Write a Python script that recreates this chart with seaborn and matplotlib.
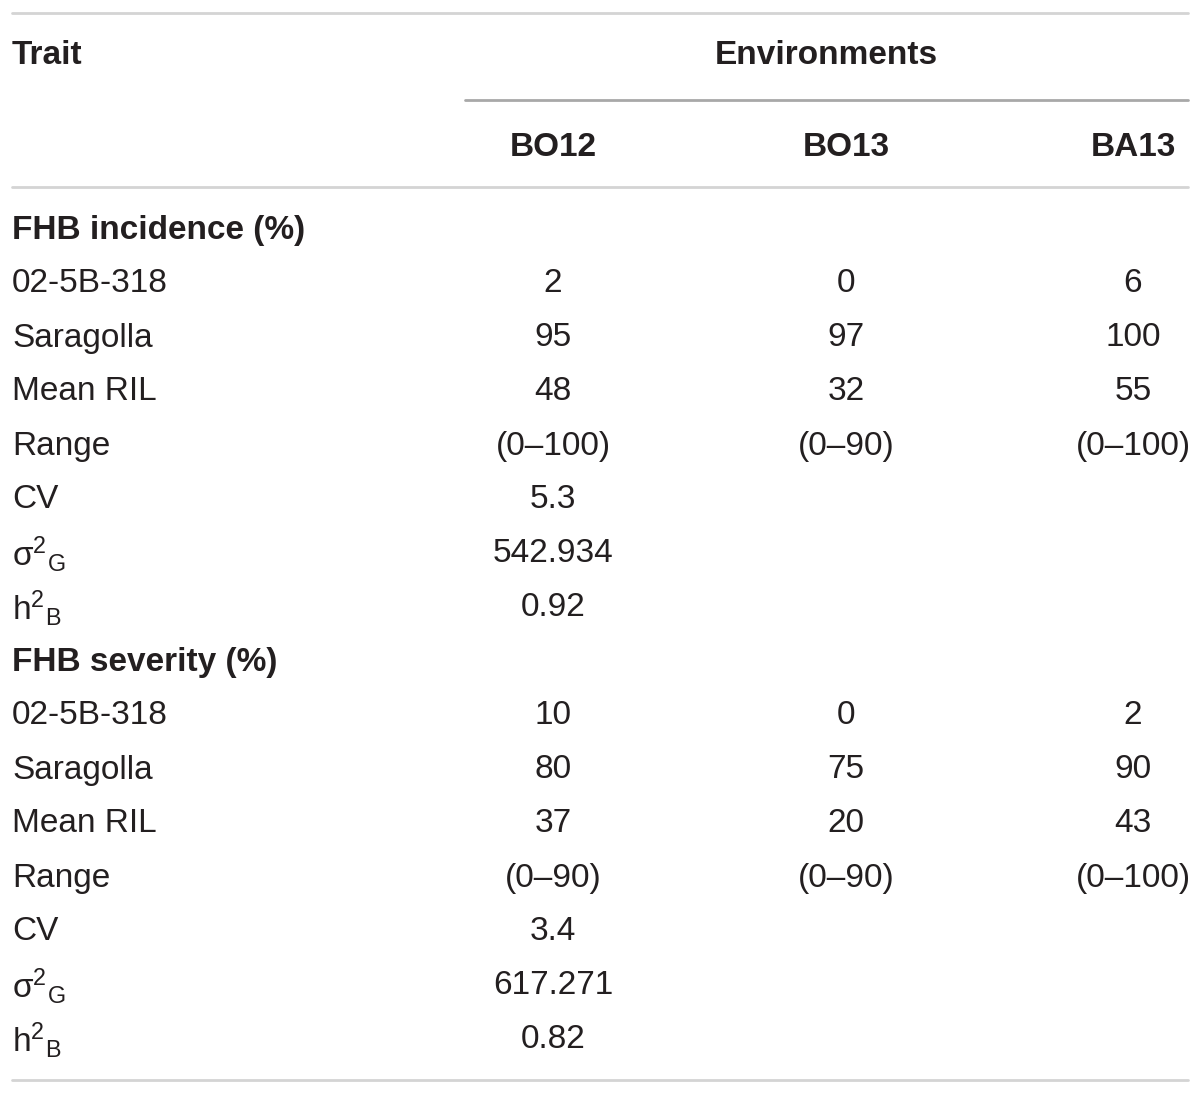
import matplotlib
matplotlib.use("Agg")
import matplotlib.pyplot as plt
import seaborn as sns
import pandas as pd

sns.set_theme(style="white")
plt.rcParams['font.family'] = ['Liberation Sans', 'DejaVu Sans']
plt.rcParams['mathtext.fontset'] = 'custom'
plt.rcParams['mathtext.rm'] = 'Liberation Sans'
plt.rcParams['mathtext.it'] = 'Liberation Sans'

# ---- data ----
header_trait = "Trait"
header_group = "Environments"
environments = ["BO12", "BO13", "BA13"]

section1 = "FHB incidence (%)"
rows1 = ["02-5B-318", "Saragolla", "Mean RIL", "Range", "CV", "sigma2G", "h2B"]
bo12_1 = ["2", "95", "48", "(0–100)", "5.3", "542.934", "0.92"]
bo13_1 = ["0", "97", "32", "(0–90)", "", "", ""]
ba13_1 = ["6", "100", "55", "(0–100)", "", "", ""]

section2 = "FHB severity (%)"
rows2 = ["02-5B-318", "Saragolla", "Mean RIL", "Range", "CV", "sigma2G", "h2B"]
bo12_2 = ["10", "80", "37", "(0–90)", "3.4", "617.271", "0.82"]
bo13_2 = ["0", "75", "20", "(0–90)", "", "", ""]
ba13_2 = ["2", "90", "43", "(0–100)", "", "", ""]

label_map = {
    "sigma2G": r"$\mathregular{\sigma^{2}{}_{G}}$",
    "h2B": r"$\mathregular{h^{2}{}_{B}}$",
}

# ---- layout ----
W, H = 1200, 1094
fig = plt.figure(figsize=(12, 10.94), dpi=100)
ax = fig.add_axes([0, 0, 1, 1])

txt = "#231f20"
fs = 24
col_x = [553, 846, 1133]
left_x = 12
dy = 2

# rules
rules = pd.DataFrame({
    "x": [12, 1188, 465, 1188, 12, 1188, 12, 1188],
    "y": [13, 13, 100, 100, 187, 187, 1080, 1080],
    "g": ["a", "a", "b", "b", "c", "c", "d", "d"],
})
for g, c, lw in [("a", "#d4d4d4", 2), ("b", "#a8a8a8", 2), ("c", "#d4d4d4", 2), ("d", "#d4d4d4", 2)]:
    sub = rules[rules.g == g]
    sns.lineplot(data=sub, x="x", y="y", ax=ax, color=c, linewidth=lw, legend=False,
                 estimator=None, sort=False)
ax.set_xlim(0, W)
ax.set_ylim(H, 0)
ax.axis("off")

ax.text(left_x, 53 + dy, header_trait, fontsize=fs, fontweight="bold", color=txt, va="center", ha="left")
ax.text(826, 53 + dy, header_group, fontsize=fs, fontweight="bold", color=txt, va="center", ha="center")
for x, e in zip(col_x, environments):
    ax.text(x, 146 + dy, e, fontsize=fs, fontweight="bold", color=txt, va="center", ha="center")

def draw_section(y0, title, rows, c1, c2, c3):
    ax.text(left_x, y0 + dy, title, fontsize=fs, fontweight="bold", color=txt, va="center", ha="left")
    for i, r in enumerate(rows):
        y = y0 + 54 * (i + 1) + dy
        lab = label_map.get(r, r)
        ax.text(left_x, y, lab, fontsize=fs, color=txt, va="center", ha="left")
        for x, v in zip(col_x, (c1[i], c2[i], c3[i])):
            if v:
                ax.text(x, y, v, fontsize=fs, color=txt, va="center", ha="center")

draw_section(228, section1, rows1, bo12_1, bo13_1, ba13_1)
draw_section(660, section2, rows2, bo12_2, bo13_2, ba13_2)

fig.savefig("out.png", dpi=100, facecolor="white")
